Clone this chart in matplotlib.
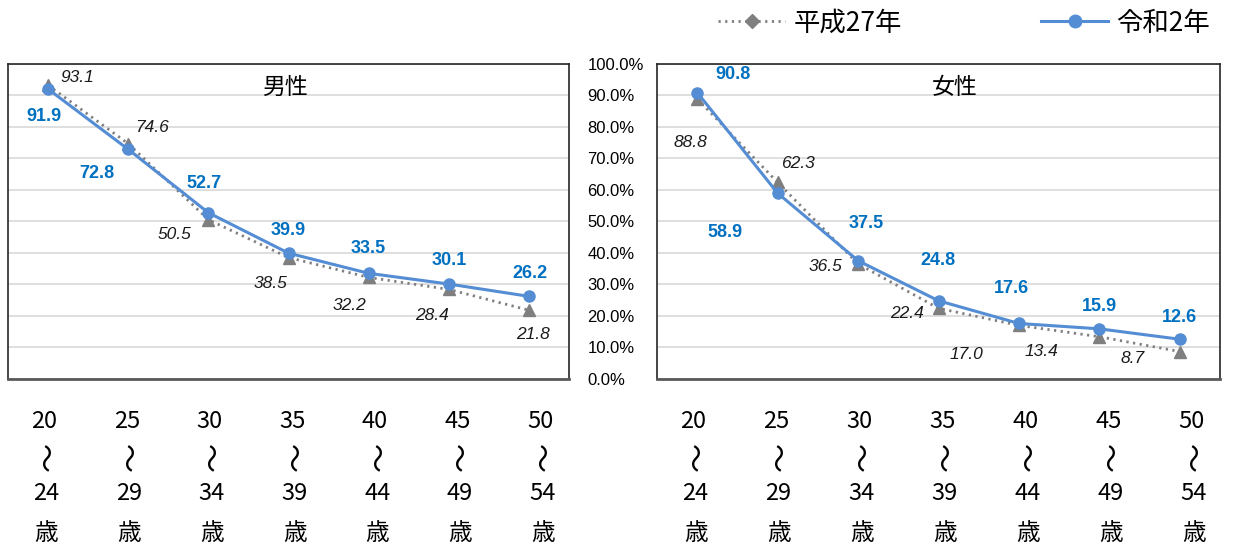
import matplotlib.pyplot as plt
from matplotlib.lines import Line2D
from matplotlib.transforms import blended_transform_factory

plt.rcParams['font.family'] = ['Noto Sans CJK JP', 'DejaVu Sans']

age_from = ['20', '25', '30', '35', '40', '45', '50']
age_to = ['24', '29', '34', '39', '44', '49', '54']
series_names = ['平成27年', '令和2年']

male_h27 = [93.1, 74.6, 50.5, 38.5, 32.2, 28.4, 21.8]
male_r2 = [91.9, 72.8, 52.7, 39.9, 33.5, 30.1, 26.2]
female_h27 = [88.8, 62.3, 36.5, 22.4, 17.0, 13.4, 8.7]
female_r2 = [90.8, 58.9, 37.5, 24.8, 17.6, 15.9, 12.6]

yticks = [0, 10, 20, 30, 40, 50, 60, 70, 80, 90, 100]

# value label offsets from each marker, in pixels (right, down)
male_r2_off = [(-4, 25), (-31, 22), (-4, -31), (0, -25), (0, -27), (0, -26), (1, -25)]
male_h27_off = [(29, -10), (24, -18), (-34, 13), (-18, 24), (-19, 26), (-17, 24), (4, 22)]
female_r2_off = [(36, -20), (-53, 37), (8, -39), (-1, -42), (-7, -37), (0, -24), (0, -24)]
female_h27_off = [(-7, 42), (20, -21), (-33, 1), (-32, 3), (-53, 27), (-58, 13), (-47, 5)]

BLUE = '#548DD4'
BLUE_TXT = '#0070C0'
GRAY = '#7F7F7F'
DOTS = (0, (0.8, 1.6))

W, H = 1233, 550
fig = plt.figure(figsize=(W / 100, H / 100), dpi=100)
ax_m = fig.add_axes([8 / W, (H - 379) / H, 561 / W, 315.5 / H])
ax_f = fig.add_axes([657 / W, (H - 379) / H, 563 / W, 315.5 / H])

x = list(range(len(age_from)))


def draw_panel(ax, h27, r2, h27_off, r2_off, title, tx):
    ax.set_xlim(-0.5, len(x) - 0.5)
    ax.set_ylim(0, 100)
    ax.set_yticks(yticks)
    ax.set_xticks([])
    ax.grid(axis='y', color='#D9D9D9', lw=1.2)
    ax.set_axisbelow(True)
    for s in ax.spines.values():
        s.set_color('#262626')
        s.set_linewidth(1.2)
    ax.spines['bottom'].set_color('#595959')
    ax.spines['bottom'].set_linewidth(2)

    ax.plot(x, h27, color=GRAY, lw=2, ls=DOTS, marker='^', ms=8, zorder=3)
    ax.plot(x, r2, color=BLUE, lw=2.2, marker='o', ms=8, zorder=4)

    for xi, v, (dx, dy) in zip(x, h27, h27_off):
        ax.annotate(f'{v:.1f}', (xi, v), xytext=(dx, -dy - 2), textcoords='offset pixels',
                    ha='center', va='center', fontsize=12.5, style='italic',
                    family='Liberation Sans', color='#1A1A1A')
    for xi, v, (dx, dy) in zip(x, r2, r2_off):
        ax.annotate(f'{v:.1f}', (xi, v), xytext=(dx, -dy - 2), textcoords='offset pixels',
                    ha='center', va='center', fontsize=13, fontweight='bold',
                    family='Liberation Sans', color=BLUE_TXT)

    ax.text(tx, 0.925, title, transform=ax.transAxes, ha='center', va='center',
            fontsize=16.5)

    # age band labels under each category
    tr = blended_transform_factory(ax.transData, fig.transFigure)
    for xi, a, b in zip(x, age_from, age_to):
        lx = -0.05 + 1.032 * xi
        ax.text(lx, 1 - 421 / H, a, transform=tr, ha='center', va='center', fontsize=17)
        ax.text(lx + 0.07, 1 - 456 / H, '〜', transform=tr, ha='center', va='center',
                fontsize=21, rotation=90)
        ax.text(lx + 0.03, 1 - 494 / H, b, transform=tr, ha='center', va='center', fontsize=17)
        ax.text(lx + 0.03, 1 - 533 / H, '歳', transform=tr, ha='center', va='center', fontsize=17)


draw_panel(ax_m, male_h27, male_r2, male_h27_off, male_r2_off, '男性', 0.494)
draw_panel(ax_f, female_h27, female_r2, female_h27_off, female_r2_off, '女性', 0.529)

ax_m.tick_params(axis='y', length=0, labelleft=False)
ax_f.set_yticklabels([f'{t:.1f}%' for t in yticks], family='Liberation Sans', fontsize=12,
                     ha='left')
ax_f.tick_params(axis='y', length=0, pad=50)

handles = [
    Line2D([], [], color=GRAY, lw=2, ls=DOTS, marker='D', ms=7),
    Line2D([], [], color=BLUE, lw=2.2, marker='o', ms=9),
]
fig.legend(handles, series_names, ncol=2, loc='center', bbox_to_anchor=(0.782, 0.958),
           frameon=False, fontsize=19, handlelength=2.54, handletextpad=0.3,
           columnspacing=5.3)

fig.savefig('out.png', dpi=100)
